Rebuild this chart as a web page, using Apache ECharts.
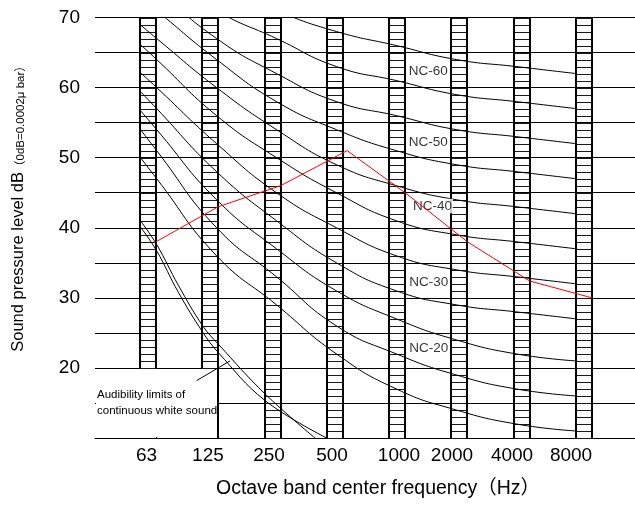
<!DOCTYPE html>
<html><head><meta charset="utf-8">
<script src="https://cdn.jsdelivr.net/npm/echarts@6/dist/echarts.min.js"></script>
<style>html,body{margin:0;padding:0;background:#fff}#c{width:635px;height:506px}</style>
</head><body><div id="c"></div>
<script>
// ---------- data ----------
const bands = ['63', '125', '250', '500', '1000', '2000', '4000', '8000'];
const bandLabelX = [-0.17, 0.856, 1.875, 2.927, 4.045, 4.93, 5.932, 6.917];
const yTickLabels = [20, 30, 40, 50, 60, 70];
// curve points: start at left edge of the 63 Hz column, then the 8 octave bands
const curveX = [-0.279, 0, 1, 2, 3, 4, 5, 6, 7];
const nc15 = [50.1, 47, 36, 29, 22, 17, 14, 12, 11];
const nc20 = [54.1, 51, 40, 33, 26, 22, 19, 17, 16];
const nc25 = [56.8, 54, 44, 37, 31, 27, 24, 22, 21];
const nc30 = [59.5, 57, 48, 41, 35, 31, 29, 28, 27];
const nc35 = [62.2, 60, 52, 45, 40, 36, 34, 33, 32];
const nc40 = [66.2, 64, 56, 50, 45, 41, 39, 38, 37];
const nc45 = [69.0, 67, 60, 54, 49, 46, 44, 43, 42];
const nc50 = [73.0, 71, 64, 58, 54, 51, 49, 48, 47];
const nc55 = [76.0, 74, 67, 62, 58, 56, 54, 53, 52];
const nc60 = [78.7, 77, 71, 67, 63, 61, 59, 58, 57];
const nc65 = [81.4, 80, 75, 71, 68, 66, 64, 63, 62];
const ncCurves = [nc15, nc20, nc25, nc30, nc35, nc40, nc45, nc50, nc55, nc60, nc65];
const ncLabelNames = ['NC-60', 'NC-50', 'NC-40', 'NC-30', 'NC-20'];
const ncLabelDb = [62.3, 52.2, 43.1, 32.2, 22.8];
const ncLabelX = [4.19, 4.19, 4.26, 4.2, 4.2];
// measured spectrum (red)
const measuredX = [-0.012, 1.028, 2.068, 3.18, 4.147, 5.187, 6.227, 7.267];
const measuredDb = [38, 43, 46, 51, 45, 38, 32.4, 30];
// audibility limits of continuous white sound (two lines)
const audAX = [-0.267, 0, 0.361, 0.768, 1.028, 1.808, 2.643];
const audADb = [40.95, 37.6, 31.8, 26.0, 23.4, 16.3, 10.0];
const audBX = [-0.267, 0, 0.361, 0.768, 1.028, 1.808, 2.838];
const audBDb = [40.06, 36.7, 30.8, 25.1, 22.2, 15.35, 10.0];
const pointerX = [0.668, 1.224];
const pointerDb = [18.2, 21.0];

// ---------- layout / style ----------
const FONT = "'Liberation Sans', Arial, 'Noto Sans CJK SC', sans-serif";
const COL_OFFSET = -0.279, COL_STEP = 1.0399, COL_W = 0.267;
const X_MIN = -1.03, X_MAX = 7.985;
const Y_MIN = 10, Y_MAX = 70;

const chart = echarts.init(document.getElementById('c'), null, {renderer: 'canvas'});

function colLeft(i) { return COL_OFFSET + COL_STEP * i; }

function renderColumn(params, api) {
  const i = api.value(0);
  const hatchBottom = api.value(1);
  const edgeBottom = api.value(2);
  const l = colLeft(i), r = l + COL_W;
  const xL = Math.round(api.coord([l, Y_MAX])[0]);
  const xR = Math.round(api.coord([r, Y_MAX])[0]);
  const yT = api.coord([l, Y_MAX])[1];
  const yHB = api.coord([l, hatchBottom])[1];
  const yEB = api.coord([l, edgeBottom])[1];
  const children = [];
  for (let d = hatchBottom; d <= Y_MAX; d++) {
    const y = Math.round(api.coord([l, d])[1]) + 0.5;
    children.push({type: 'line', shape: {x1: xL, y1: y, x2: xR, y2: y},
      style: {stroke: '#1a1a1a', lineWidth: 1}});
  }
  children.push({type: 'line', shape: {x1: xL, y1: yT, x2: xL, y2: yHB},
    style: {stroke: '#000', lineWidth: 2}});
  children.push({type: 'line', shape: {x1: xR, y1: yT, x2: xR, y2: yEB},
    style: {stroke: '#000', lineWidth: 2}});
  return {type: 'group', children};
}

function renderBox(params, api) {
  const cs = params.coordSys;
  const x0 = cs.x;
  const p20 = api.coord([colLeft(1) + COL_W, 20]);
  const p10 = api.coord([colLeft(1) + COL_W, 10]);
  const p15 = api.coord([0, 15]);
  return {type: 'group', children: [
    {type: 'rect', shape: {x: x0 + 1, y: p20[1] + 1, width: p20[0] - x0 - 2, height: p10[1] - p20[1] - 2},
      style: {fill: '#fff'}},
    {type: 'text', x: x0 + 2, y: p15[1],
      style: {text: 'Audibility limits of\ncontinuous white sound', fill: '#000',
        fontSize: 11.5, fontFamily: FONT, lineHeight: 16.7, verticalAlign: 'middle', align: 'left'}}
  ]};
}

const series = [];
series.push({type: 'custom', name: 'box', renderItem: renderBox, data: [[0, 15]], silent: true, z: 2});
series.push({type: 'custom', name: 'columns', renderItem: renderColumn, silent: true, z: 2, clip: false,
  data: bands.map((b, i) => [i, i < 2 ? 20 : 10, i < 1 ? 20 : 10])});
ncCurves.forEach((arr, k) => {
  series.push({type: 'line', name: 'NC-' + (15 + 5 * k), data: arr.map((v, i) => [curveX[i], v]),
    smooth: 0.5, symbol: 'none', silent: true, clip: true, z: 2,
    lineStyle: {color: '#000', width: 1}});
});
series.push({type: 'line', name: 'audA', data: audADb.map((v, i) => [audAX[i], v]), smooth: 0.4,
  symbol: 'none', silent: true, z: 2, lineStyle: {color: '#000', width: 1}});
series.push({type: 'line', name: 'audB', data: audBDb.map((v, i) => [audBX[i], v]), smooth: 0.4,
  symbol: 'none', silent: true, z: 2, lineStyle: {color: '#000', width: 1}});
series.push({type: 'line', name: 'pointer', data: pointerDb.map((v, i) => [pointerX[i], v]),
  symbol: 'none', silent: true, z: 3, lineStyle: {color: '#000', width: 1}});
series.push({type: 'scatter', name: 'labels', z: 3, silent: true, symbolSize: 0.1,
  itemStyle: {color: 'rgba(0,0,0,0)'},
  data: ncLabelNames.map((n, i) => [ncLabelX[i], ncLabelDb[i], n]),
  label: {show: true, position: 'right', distance: 0, formatter: p => p.data[2], color: '#000',
    fontSize: 13.5, fontFamily: FONT, backgroundColor: '#fff', padding: [1, 1, 0, 1]}});
series.push({type: 'line', name: 'measured', data: measuredDb.map((v, i) => [measuredX[i], v]),
  symbol: 'none', silent: true, z: 4, lineStyle: {color: '#ff0000', width: 1}});

chart.setOption({
  animation: false,
  backgroundColor: '#fff',
  textStyle: {fontFamily: FONT},
  grid: {left: 95, right: 0, top: 17.5, bottom: 68},
  xAxis: {
    type: 'value', min: X_MIN, max: X_MAX,
    axisLine: {show: true, lineStyle: {color: '#000', width: 1}},
    axisTick: {show: false}, splitLine: {show: false},
    axisLabel: {customValues: bandLabelX, formatter: v => {
      const k = bandLabelX.indexOf(v); return k >= 0 ? bands[k] : '';
    }, fontSize: 19, color: '#000', margin: 8, fontFamily: FONT},
    name: 'Octave band center frequency（Hz）', nameLocation: 'middle', nameGap: 41,
    nameTextStyle: {fontSize: 19.5, color: '#000', fontFamily: FONT, padding: [0, 0, 0, 26]}
  },
  yAxis: {
    type: 'value', min: Y_MIN, max: Y_MAX, interval: 5,
    axisLine: {show: true, lineStyle: {color: '#000', width: 1}},
    axisTick: {show: false},
    splitLine: {show: true, lineStyle: {color: '#000', width: 1}},
    axisLabel: {formatter: v => yTickLabels.includes(v) ? String(v) : '', fontSize: 19, color: '#000',
      margin: 15, fontFamily: FONT}
  },
  graphic: [{
    type: 'text', x: 27, y: 206, rotation: Math.PI / 2,
    style: {
      text: '{a|Sound pressure level dB}{b|（0dB=0.0002μ bar）}',
      align: 'center', verticalAlign: 'bottom', fill: '#000',
      rich: {
        a: {fontSize: 16.5, fontFamily: FONT, fill: '#000', verticalAlign: 'bottom'},
        b: {fontSize: 11.5, fontFamily: FONT, fill: '#000', verticalAlign: 'bottom'}
      }
    }
  }],
  series
});
</script>
</body></html>
